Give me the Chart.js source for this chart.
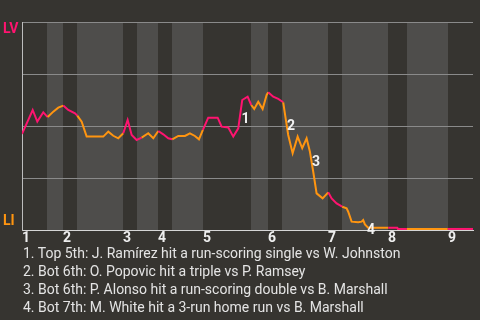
<!DOCTYPE html>
<html><head><meta charset="utf-8">
<script src="https://cdn.jsdelivr.net/npm/chart.js@4"></script>
<style>
html,body{margin:0;padding:0;background:#363430;width:480px;height:320px;overflow:hidden}
#wrap{position:relative;width:480px;height:320px}
canvas{position:absolute;left:0;top:0}
#notes{position:absolute;left:23px;top:244px;font:14px Roboto, sans-serif;color:#e4e4e4;line-height:18px;white-space:nowrap}
</style>
</head><body>
<div id="wrap"><canvas id="c" width="480" height="320"></canvas>
<div id="notes"></div></div>
<script>
// ---- data ----
const innings = ['1','2','3','4','5','6','7','8','9'];
// start of each half-inning on the play axis (top 1st, bot 1st, top 2nd, ...)
const halfStarts = [0, 5.35, 8.78, 11.78, 21.6, 24.63, 29.12, 32.12, 38.7, 49.1, 52.67, 55.67, 65.52, 68.52, 78.37, 82.44, 91.2];
const playEnd = 96.6;
const playX = [0, 2.29, 3.28, 4.56, 5.5, 6.7, 7.77, 8.84, 9.91, 11.35, 11.84, 12.78, 13.85, 17.41, 18.48, 19.55, 20.62, 21.69, 22.63, 23.49, 24.56, 25.63, 27.04, 28.12, 29.19, 30.26, 31.33, 32.18, 33.47, 34.9, 35.97, 37.04, 37.9, 38.75, 39.89, 41.91, 42.76, 44.18, 45.25, 46.32, 47.17, 48.33, 49.1, 49.74, 50.6, 51.54, 52.4, 52.74, 53.81, 54.88, 55.95, 56.47, 57.02, 57.97, 59.04, 60.02, 60.96, 61.67, 62.38, 63.1, 64.39, 65.59, 66.32, 67.39, 68.59, 69.53, 69.87, 70.6, 72.01, 72.74, 73.08, 73.45, 74.15, 78.44, 80.36, 80.5, 82.44, 91.2, 96.6];
const winProb = [0.462, 0.577, 0.521, 0.566, 0.543, 0.569, 0.588, 0.598, 0.577, 0.561, 0.55, 0.521, 0.449, 0.449, 0.473, 0.453, 0.441, 0.465, 0.529, 0.457, 0.433, 0.444, 0.465, 0.441, 0.476, 0.46, 0.441, 0.436, 0.452, 0.452, 0.465, 0.452, 0.436, 0.481, 0.54, 0.54, 0.497, 0.493, 0.449, 0.489, 0.625, 0.641, 0.601, 0.582, 0.617, 0.582, 0.649, 0.662, 0.641, 0.63, 0.614, 0.537, 0.457, 0.369, 0.449, 0.393, 0.441, 0.376, 0.28, 0.176, 0.152, 0.181, 0.152, 0.128, 0.112, 0.104, 0.088, 0.04, 0.037, 0.04, 0.048, 0.027, 0.011, 0.011, 0.011, 0.005, 0.005, 0.005, 0.005];
const eventLabels = ['1','2','3','4'];
const eventX = [47.86, 57.6, 62.95, 74.73];
const eventY = [0.53, 0.497, 0.324, 0.0];
const notes = [
  '1. Top 5th: J. Ramírez hit a run-scoring single vs W. Johnston',
  '2. Bot 6th: O. Popovic hit a triple vs P. Ramsey',
  '3. Bot 6th: P. Alonso hit a run-scoring double vs B. Marshall',
  '4. Bot 7th: M. White hit a 3-run home run vs B. Marshall'
];
const teamTop = 'LV', teamBottom = 'LI';

// ---- styles ----
const PINK = '#ff1470', ORANGE = '#ff9510', BAND = '#4e4d4b', GRID = '#8a8a8a';

document.getElementById('notes').innerHTML = notes.map(s => '<div>' + s + '</div>').join('');

function halfIndex(x){
  let idx = 0;
  for (let i = 0; i < halfStarts.length; i++) if (x >= halfStarts[i] - 1e-6) idx = i;
  return idx;
}

const plug = {
  id: 'wpDecor',
  beforeDraw(chart){
    const {ctx, chartArea: a, scales: {x}} = chart;
    ctx.save();
    ctx.fillStyle = BAND;
    for (let i = 1; i < halfStarts.length; i += 2){
      const x0 = Math.round(x.getPixelForValue(halfStarts[i]));
      const x1 = Math.round(x.getPixelForValue(i + 1 < halfStarts.length ? halfStarts[i+1] : playEnd));
      ctx.fillRect(x0, a.top, x1 - x0, a.bottom - a.top);
    }
    ctx.restore();
  },
  afterDraw(chart){
    const {ctx, chartArea: a, scales: {x, y}} = chart;
    ctx.save();
    ctx.font = 'bold 14px Roboto, sans-serif';
    ctx.textBaseline = 'middle';
    ctx.textAlign = 'left';
    ctx.fillStyle = '#eeeeee';
    innings.forEach((lab, i) => {
      ctx.fillText(lab, Math.round(x.getPixelForValue(halfStarts[2*i])), a.bottom + 8);
    });
    ctx.textBaseline = 'alphabetic';
    ctx.fillStyle = PINK;
    ctx.fillText(teamTop, 3, a.top + 11);
    ctx.fillStyle = ORANGE;
    ctx.fillText(teamBottom, 3, a.bottom - 5);
    ctx.textAlign = 'center';
    ctx.textBaseline = 'middle';
    ctx.fillStyle = '#f2f2f2';
    eventLabels.forEach((lab, i) => {
      ctx.fillText(lab, x.getPixelForValue(eventX[i]), y.getPixelForValue(eventY[i]));
    });
    ctx.restore();
  }
};

new Chart(document.getElementById('c'), {
  type: 'line',
  data: {
    datasets: [{
      data: playX.map((v, i) => ({x: v, y: winProb[i]})),
      borderWidth: 2,
      pointRadius: 0,
      tension: 0,
      fill: false,
      borderColor: PINK,
      segment: {
        borderColor: c => (halfIndex(c.p0.parsed.x) % 2 === 0 ? PINK : ORANGE)
      }
    }]
  },
  options: {
    responsive: false,
    animation: false,
    devicePixelRatio: 1,
    layout: {padding: {left: 22, top: 22, right: 7, bottom: 90}},
    plugins: {legend: {display: false}, tooltip: {enabled: false}, title: {display: false}},
    scales: {
      x: {
        type: 'linear', min: 0, max: playEnd,
        ticks: {display: false},
        grid: {display: false, drawTicks: false},
        border: {display: true, color: '#d6d6d6', width: 1}
      },
      y: {
        min: 0, max: 1,
        ticks: {display: false, stepSize: 0.25},
        grid: {drawTicks: false, color: c => (c.tick && c.tick.value === 0 ? 'rgba(0,0,0,0)' : GRID), lineWidth: 1},
        border: {display: true, color: '#bdbdbd', width: 1}
      }
    }
  },
  plugins: [plug]
});
</script>
</body></html>
